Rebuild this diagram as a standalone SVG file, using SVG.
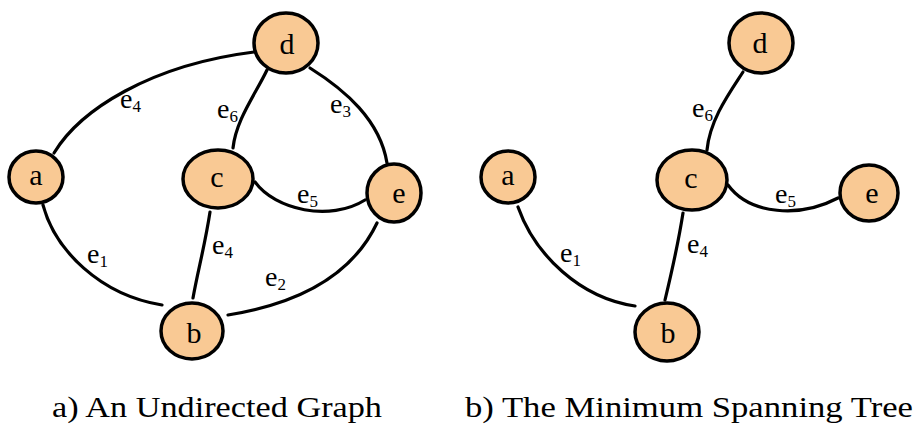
<svg xmlns="http://www.w3.org/2000/svg" width="917" height="428" viewBox="0 0 917 428">
<style>
.edge{fill:none;stroke:#000;stroke-width:3.2;stroke-linecap:round}
.node{fill:#F9C994;stroke:#000;stroke-width:3.5}
.nl{font-family:"Liberation Serif",serif;font-size:30px;fill:#000;text-anchor:middle}
.el{font-family:"Liberation Serif",serif;font-size:28px;fill:#000}
.sub{font-size:17px}
.cap{font-family:"Liberation Serif",serif;font-size:29px;fill:#000}
</style>
<rect width="917" height="428" fill="#fff"/>
<g id="connectors">
<path class="edge" d="M54,153 C80,110 150,65 254,52"/>
<path class="edge" d="M267,70 C255,95 236,120 233,148"/>
<path class="edge" d="M310,68 C345,90 380,120 387,163"/>
<path class="edge" d="M255,182 C275,210 330,222 365,200"/>
<path class="edge" d="M43,205 C55,250 100,295 162,305"/>
<path class="edge" d="M210,212 C205,245 198,270 193,298"/>
<path class="edge" d="M377,223 C350,280 290,305 228,315"/>
<path class="edge" d="M743,72 C728,95 710,120 707,150"/>
<path class="edge" d="M728,185 C750,215 800,218 838,198"/>
<path class="edge" d="M518,207 C535,255 580,298 635,306"/>
<path class="edge" d="M683,213 C678,245 671,275 665,300"/>
</g>
<g id="edge-labels">
<text class="el" x="120" y="108">e<tspan class="sub" dy="4">4</tspan></text>
<text class="el" x="217" y="118">e<tspan class="sub" dy="4">6</tspan></text>
<text class="el" x="330" y="113">e<tspan class="sub" dy="4">3</tspan></text>
<text class="el" x="297" y="203">e<tspan class="sub" dy="4">5</tspan></text>
<text class="el" x="87" y="263">e<tspan class="sub" dy="4">1</tspan></text>
<text class="el" x="212" y="254">e<tspan class="sub" dy="4">4</tspan></text>
<text class="el" x="265" y="286">e<tspan class="sub" dy="4">2</tspan></text>
<text class="el" x="692" y="117">e<tspan class="sub" dy="4">6</tspan></text>
<text class="el" x="775" y="203">e<tspan class="sub" dy="4">5</tspan></text>
<text class="el" x="560" y="262">e<tspan class="sub" dy="4">1</tspan></text>
<text class="el" x="687" y="253">e<tspan class="sub" dy="4">4</tspan></text>
</g>
<g id="node-a1"><ellipse class="node" cx="36" cy="177" rx="27" ry="26"/><text class="nl" x="36" y="185">a</text></g>
<g id="node-b1"><ellipse class="node" cx="192" cy="331" rx="31" ry="28"/><text class="nl" x="194" y="343">b</text></g>
<g id="node-c1"><ellipse class="node" cx="218" cy="179" rx="35" ry="29"/><text class="nl" x="217" y="187">c</text></g>
<g id="node-d1"><ellipse class="node" cx="286" cy="43" rx="32" ry="30"/><text class="nl" x="287" y="54">d</text></g>
<g id="node-e1"><ellipse class="node" cx="394" cy="193" rx="27" ry="29"/><text class="nl" x="399" y="203">e</text></g>
<g id="node-a2"><ellipse class="node" cx="508" cy="177" rx="27" ry="26"/><text class="nl" x="508" y="185">a</text></g>
<g id="node-b2"><ellipse class="node" cx="667" cy="332" rx="32" ry="29"/><text class="nl" x="668" y="343">b</text></g>
<g id="node-c2"><ellipse class="node" cx="692" cy="180" rx="35" ry="30"/><text class="nl" x="691" y="188">c</text></g>
<g id="node-d2"><ellipse class="node" cx="761" cy="43" rx="32" ry="30"/><text class="nl" x="760" y="53">d</text></g>
<g id="node-e2"><ellipse class="node" cx="869" cy="193" rx="29" ry="28"/><text class="nl" x="872" y="203">e</text></g>
<g id="captions">
<text class="cap" x="52" y="417" textLength="330" lengthAdjust="spacingAndGlyphs">a) An Undirected Graph</text>
<text class="cap" x="465" y="417" textLength="448" lengthAdjust="spacingAndGlyphs">b) The Minimum Spanning Tree</text>
</g>
</svg>
